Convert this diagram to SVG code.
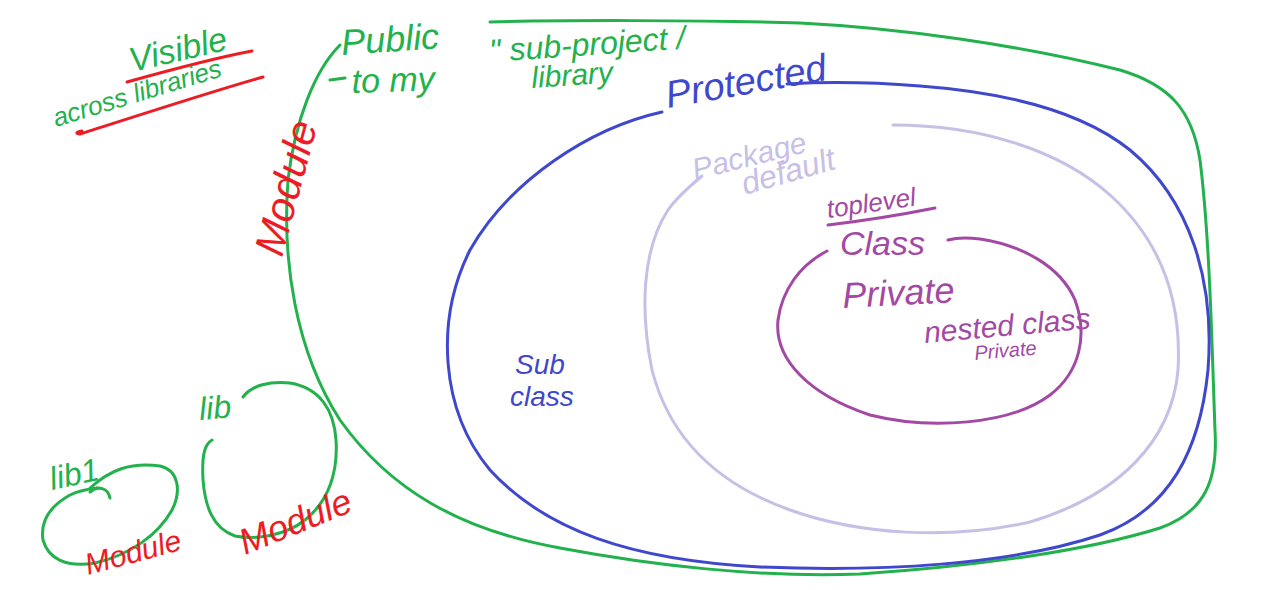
<svg xmlns="http://www.w3.org/2000/svg" width="1268" height="590" viewBox="0 0 1268 590">
<style>
.ln{fill:none;stroke-width:3;stroke-linecap:round;stroke-linejoin:round}
.g{stroke:#22b14c}.r{stroke:#ed1c24}.b{stroke:#3f48cc}.l{stroke:#c8bfe7}.p{stroke:#a349a4}
text{font-family:"Liberation Sans","DejaVu Sans",sans-serif;font-style:italic}
.tg{fill:#22b14c}.tr{fill:#ed1c24}.tb{fill:#3f48cc}.tl{fill:#c8bfe7}.tp{fill:#a349a4}
</style>
<rect width="1268" height="590" fill="#fff"/>
<g id="connectors">
<path id="module-outline" class="ln g" d="M340,45 C315,70 295,120 288,180 C282,260 295,350 340,420 C390,490 460,530 560,548 C650,565 760,578 860,574 C980,566 1090,550 1160,528 C1205,512 1218,480 1215,430 C1212,350 1210,240 1200,160 C1192,110 1170,85 1120,70 C1020,45 900,28 800,23 C700,20 560,20 490,22"/>
<path id="protected-outline" class="ln b" d="M662,112 C590,128 510,180 470,250 C435,320 440,410 490,470 C545,530 630,560 760,567 C880,572 1010,565 1100,535 C1170,510 1200,450 1208,370 C1215,280 1190,200 1130,150 C1080,110 1000,92 920,86 C870,82 820,82 787,84"/>
<path id="package-outline" class="ln l" d="M893,125 C980,125 1060,150 1110,195 C1160,240 1182,300 1178,370 C1172,440 1120,495 1030,522 C950,540 860,535 790,510 C720,485 670,440 652,370 C640,310 642,250 668,210 C675,200 690,186 702,176"/>
<path id="class-outline" class="ln p" d="M827,251 C800,265 782,290 778,320 C774,360 810,395 870,415 C930,430 1010,425 1050,395 C1080,372 1088,335 1075,300 C1060,265 1020,245 980,239 C965,237 955,238 948,240"/>
<path id="lib1-outline" class="ln g" d="M90,488 C110,470 130,462 160,466 C178,470 182,490 172,510 C158,535 130,555 95,563 C65,568 48,558 43,540 C40,520 52,505 70,495 C80,490 88,489 97,488"/>
<path class="ln g" d="M90,492 C98,485 108,488 110,498"/>
<path id="lib-outline" class="ln g" d="M243,397 C252,385 270,381 290,383 C320,388 334,410 336,440 C338,470 330,500 305,520 C285,536 255,540 235,536 C212,528 205,505 203,480 C202,460 203,445 212,440"/>
<path class="ln r" d="M127,82 C170,70 215,58 252,51"/>
<path class="ln r" d="M82,131 C75,132 76,134 80,134 C140,115 210,92 263,77"/>
<path class="ln p" d="M828,225 C870,220 905,214 935,208"/>
<path class="ln g" d="M330,80 L345,78"/>
</g>
<g id="visible-label"><text class="tg" x="132" y="72" font-size="34" transform="rotate(-13 132 72)">Visible</text></g>
<g id="across-label"><text class="tg" x="56" y="127" font-size="26" transform="rotate(-17 56 127)">across libraries</text></g>
<g id="public-label">
<text class="tg" x="342" y="55" font-size="36" transform="rotate(-4 342 55)">Public</text>
<text class="tg" x="490" y="62" font-size="32" transform="rotate(-4 490 62)">" sub-project /</text>
<text class="tg" x="352" y="93" font-size="34" transform="rotate(-2 352 93)">to my</text>
<text class="tg" x="532" y="88" font-size="30" transform="rotate(-4 532 88)">library</text>
</g>
<g id="protected-label"><text class="tb" x="668" y="108" font-size="38" transform="rotate(-10 668 108)">Protected</text></g>
<g id="package-label">
<text class="tl" x="695" y="180" font-size="30" transform="rotate(-14 695 180)">Package</text>
<text class="tl" x="745" y="195" font-size="32" transform="rotate(-16 745 195)">default</text>
</g>
<g id="class-label">
<text class="tp" x="828" y="218" font-size="26" transform="rotate(-8 828 218)">toplevel</text>
<text class="tp" x="840" y="255" font-size="34">Class</text>
<text class="tp" x="843" y="308" font-size="36" transform="rotate(-3 843 308)">Private</text>
</g>
<g id="nested-label">
<text class="tp" x="925" y="343" font-size="30" transform="rotate(-5 925 343)">nested class</text>
<text class="tp" x="975" y="360" font-size="20" transform="rotate(-5 975 360)">Private</text>
</g>
<g id="subclass-label">
<text class="tb" x="515" y="374" font-size="28">Sub</text>
<text class="tb" x="510" y="406" font-size="28">class</text>
</g>
<g id="module-label"><text class="tr" x="282" y="258" font-size="42" transform="rotate(-75 282 258)">Module</text></g>
<g id="lib1-label"><text class="tg" x="52" y="490" font-size="32" transform="rotate(-12 52 490)">lib1</text></g>
<g id="lib-label"><text class="tg" x="200" y="420" font-size="32" transform="rotate(-5 200 420)">lib</text></g>
<g id="lib1-module"><text class="tr" x="88" y="575" font-size="30" transform="rotate(-15 88 575)">Module</text></g>
<g id="lib-module"><text class="tr" x="245" y="555" font-size="36" transform="rotate(-22 245 555)">Module</text></g>
</svg>
